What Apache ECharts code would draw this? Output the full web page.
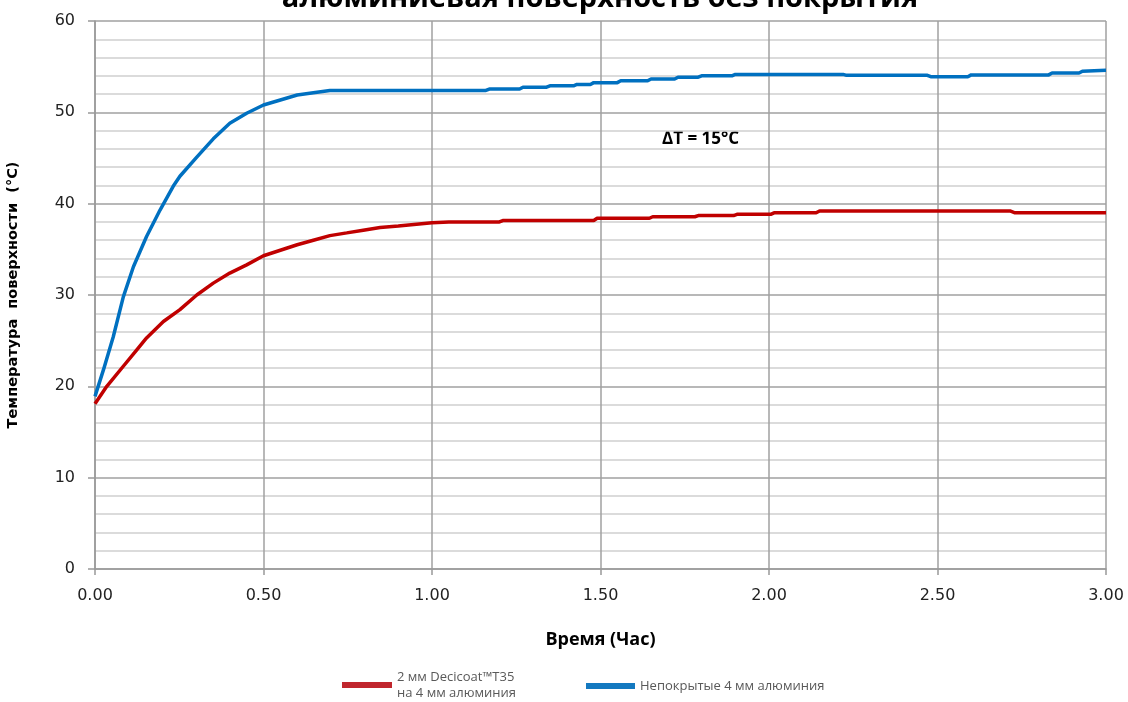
<!DOCTYPE html>
<html><head><meta charset="utf-8">
<script src="https://cdn.jsdelivr.net/npm/echarts@6/dist/echarts.min.js"></script>
<style>html,body{margin:0;padding:0;background:#fff}#c{width:1128px;height:702px}</style>
</head><body><div id="c"></div>
<script>
const titleText = 'алюминиевая поверхность без покрытия';
const xTicks = [0, 0.5, 1, 1.5, 2, 2.5, 3];
const yTicks = [0, 10, 20, 30, 40, 50, 60];
const seriesNames = ['2 мм Decicoat™T35\nна 4 мм алюминия', 'Непокрытые 4 мм алюминия'];

const redTime = [0, 0.035, 0.084, 0.124, 0.153, 0.203, 0.252, 0.302, 0.351, 0.4, 0.45, 0.5, 0.55, 0.6, 0.648, 0.697, 0.747, 0.796, 0.846, 0.9, 1.0, 1.05, 1.2, 1.21, 1.48, 1.49, 1.645, 1.655, 1.78, 1.79, 1.895, 1.905, 2.005, 2.015, 2.14, 2.15, 2.715, 2.73, 3.0];
const redTemp = [18.1, 20.0, 22.2, 24.0, 25.3, 27.1, 28.4, 30.0, 31.3, 32.4, 33.3, 34.3, 34.9, 35.5, 36.0, 36.5, 36.8, 37.1, 37.4, 37.55, 37.9, 38.0, 38.0, 38.15, 38.15, 38.4, 38.4, 38.57, 38.57, 38.7, 38.7, 38.83, 38.83, 39.0, 39.0, 39.2, 39.2, 39.0, 39.0];

const blueTime = [0, 0.025, 0.054, 0.084, 0.114, 0.153, 0.193, 0.232, 0.252, 0.302, 0.351, 0.4, 0.45, 0.5, 0.55, 0.6, 0.648, 0.697, 0.8, 1.16, 1.17, 1.26, 1.27, 1.34, 1.35, 1.42, 1.43, 1.47, 1.48, 1.55, 1.56, 1.64, 1.65, 1.72, 1.73, 1.79, 1.8, 1.89, 1.9, 2.22, 2.23, 2.47, 2.48, 2.59, 2.6, 2.83, 2.84, 2.92, 2.93, 3.0];
const blueTemp = [18.9, 21.8, 25.4, 29.8, 33.1, 36.4, 39.3, 41.9, 43.0, 45.1, 47.1, 48.8, 49.9, 50.8, 51.35, 51.9, 52.15, 52.4, 52.4, 52.4, 52.55, 52.55, 52.75, 52.75, 52.9, 52.9, 53.05, 53.05, 53.25, 53.25, 53.45, 53.45, 53.65, 53.65, 53.85, 53.85, 54.0, 54.0, 54.15, 54.15, 54.05, 54.05, 53.9, 53.9, 54.1, 54.1, 54.3, 54.3, 54.5, 54.6];

const redColor = '#c00000';
const blueColor = '#0070c0';
const zip = (a, b) => a.map((t, i) => [t, b[i]]);

const chart = echarts.init(document.getElementById('c'));
const legendText = {fontFamily: 'Open Sans', fontSize: 13, color: '#595959', lineHeight: 16};
chart.setOption({
  animation: false,
  grid: {left: 95, right: 22, top: 21, bottom: 133, outerBoundsMode: 'none', containLabel: false},
  legend: [
    {data: [{name: seriesNames[0], icon: 'rect', itemStyle: {color: '#c0262d'}}], left: 337, top: 664, itemWidth: 50, itemHeight: 6, itemGap: 0, textStyle: legendText},
    {data: [{name: seriesNames[1], icon: 'rect', itemStyle: {color: '#1479c0'}}], left: 581, top: 673, itemWidth: 49, itemHeight: 6, itemGap: 0, textStyle: legendText}
  ],
  xAxis: {
    type: 'value', min: xTicks[0], max: xTicks[xTicks.length - 1], interval: 0.5,
    name: 'Время (Час)', nameLocation: 'middle', nameGap: 62,
    nameTextStyle: {fontFamily: 'Open Sans', fontWeight: 'bold', fontSize: 18, color: '#000'},
    axisLine: {show: true, lineStyle: {color: '#999', width: 1.5}},
    axisTick: {show: true, length: 6, lineStyle: {color: '#999', width: 1.5}},
    axisLabel: {margin: 19, fontFamily: 'DejaVu Sans', fontSize: 16, color: '#222', formatter: v => v.toFixed(2)},
    splitLine: {show: true, lineStyle: {color: '#a0a0a0', width: 1.5}}
  },
  yAxis: {
    type: 'value', min: yTicks[0], max: yTicks[yTicks.length - 1], interval: 10,
    name: 'Температура  поверхности  (°C)', nameLocation: 'middle', nameGap: 74, nameRotate: 90,
    nameTextStyle: {fontFamily: 'DejaVu Sans', fontWeight: 'bold', fontSize: 14.5, color: '#000'},
    axisLine: {show: true, lineStyle: {color: '#999', width: 1.5}},
    axisTick: {show: true, length: 7, lineStyle: {color: '#999', width: 1.5}},
    axisLabel: {margin: 20, fontFamily: 'DejaVu Sans', fontSize: 16, color: '#222'},
    splitLine: {show: true, lineStyle: {color: '#a0a0a0', width: 1.5}},
    minorTick: {show: false, splitNumber: 5},
    minorSplitLine: {show: true, lineStyle: {color: '#d0d0d0', width: 1.5}}
  },
  graphic: [
    {type: 'text', x: 600, y: -16,
      style: {text: titleText, align: 'center', verticalAlign: 'top', fontFamily: 'Open Sans', fontWeight: 'bold', fontSize: 29, fill: '#000'}},
    {type: 'text', left: 662, top: 131,
      style: {text: 'ΔT = 15°C', fontFamily: 'Open Sans', fontWeight: 'bold', fontSize: 17, fill: '#000'}}
  ],
  series: [
    {name: seriesNames[0], type: 'line', data: zip(redTime, redTemp), showSymbol: false,
      itemStyle: {color: redColor}, lineStyle: {color: redColor, width: 3.5}, z: 3},
    {name: seriesNames[1], type: 'line', data: zip(blueTime, blueTemp), showSymbol: false,
      itemStyle: {color: blueColor}, lineStyle: {color: blueColor, width: 3.5}, z: 3}
  ]
});
</script></body></html>
